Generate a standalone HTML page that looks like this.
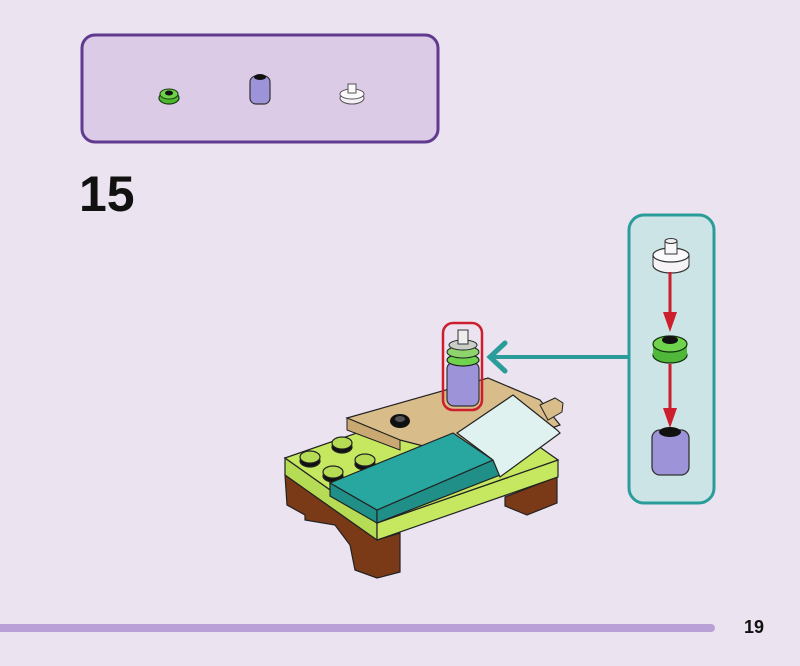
<!DOCTYPE html>
<html><head><style>
html,body{margin:0;padding:0;background:#ece3f1;}
svg{display:block;}
text{font-family:"Liberation Sans",sans-serif;}
</style></head><body>
<svg width="800" height="666" viewBox="0 0 800 666" xmlns="http://www.w3.org/2000/svg">
<rect width="800" height="666" fill="#ece3f1"/>
<!-- top parts box -->
<rect x="82" y="35" width="356" height="107" rx="13" fill="#dccbe6" stroke="#5f3a8f" stroke-width="3"/>
<!-- green small -->
<ellipse cx="169" cy="98" rx="10" ry="6" fill="#4cb830" stroke="#1a3a10" stroke-width="1.2"/>
<ellipse cx="169" cy="94" rx="9" ry="5" fill="#6fd04a" stroke="#1a3a10" stroke-width="1"/>
<ellipse cx="169" cy="93" rx="4" ry="2.5" fill="#111"/>
<!-- purple small -->
<rect x="250" y="76" width="20" height="28" rx="6" fill="#9d93d8" stroke="#333" stroke-width="1.2"/>
<ellipse cx="260" cy="77" rx="6" ry="3" fill="#111"/>
<!-- clear small -->
<ellipse cx="352" cy="98" rx="12" ry="6" fill="#f4f0f6" stroke="#555" stroke-width="1"/>
<ellipse cx="352" cy="94" rx="12" ry="5" fill="#fbf9fc" stroke="#555" stroke-width="1"/>
<rect x="348" y="84" width="8" height="9" fill="#fbf9fc" stroke="#555" stroke-width="1"/>
<text x="79" y="211" font-size="50" font-weight="bold" fill="#111">15</text>

<!-- callout -->
<line x1="628" y1="357" x2="492" y2="357" stroke="#2a9d9a" stroke-width="4"/>
<polyline points="505,343 490,357 505,371" fill="none" stroke="#2a9d9a" stroke-width="5" stroke-linecap="round"/>
<rect x="629" y="215" width="85" height="288" rx="15" fill="#cde4e6" stroke="#2a9d9a" stroke-width="3"/>
<!-- clear part -->
<ellipse cx="671" cy="265" rx="18" ry="8" fill="#f5f3f6" stroke="#333" stroke-width="1.2"/>
<rect x="653" y="255" width="36" height="10" fill="#f5f3f6"/>
<ellipse cx="671" cy="255" rx="18" ry="7" fill="#fbfafc" stroke="#333" stroke-width="1.2"/>
<line x1="653" y1="255" x2="653" y2="265" stroke="#333"/><line x1="689" y1="255" x2="689" y2="265" stroke="#333"/>
<rect x="665" y="241" width="12" height="13" fill="#f7f6f8" stroke="#333" stroke-width="1"/>
<ellipse cx="671" cy="241" rx="6" ry="2.5" fill="#eee" stroke="#333" stroke-width="1"/>
<!-- arrows red -->
<line x1="670" y1="272" x2="670" y2="318" stroke="#cc1e2c" stroke-width="3"/>
<polygon points="663,312 677,312 670,332" fill="#cc1e2c"/>
<!-- green part -->
<ellipse cx="670" cy="355" rx="17" ry="8" fill="#4fb83a" stroke="#143010" stroke-width="1.2"/>
<rect x="653" y="344" width="34" height="11" fill="#4fb83a"/>
<ellipse cx="670" cy="344" rx="17" ry="8" fill="#6fd34d" stroke="#143010" stroke-width="1.2"/>
<ellipse cx="670" cy="340" rx="8" ry="4" fill="#111"/>
<line x1="670" y1="364" x2="670" y2="414" stroke="#cc1e2c" stroke-width="3"/>
<polygon points="663,408 677,408 670,428" fill="#cc1e2c"/>
<!-- purple part -->
<rect x="652" y="430" width="37" height="45" rx="8" fill="#9d93d8" stroke="#333" stroke-width="1.3"/>
<ellipse cx="670" cy="432" rx="11" ry="5" fill="#111"/>

<!-- model -->
<!-- brown legs -->
<polygon points="285,475 377,540 400,533 400,572 377,578 355,570 350,545 335,525 305,520 305,515 287,505" fill="#7a3a18" stroke="#222" stroke-width="1.2"/>
<polygon points="505,497 557,477 557,503 527,515 505,506" fill="#7a3a18" stroke="#222" stroke-width="1.2"/>
<!-- green plate -->
<polygon points="285,458 377,523 377,540 285,475" fill="#b6dc55" stroke="#222" stroke-width="1.2"/>
<polygon points="377,523 558,460 558,477 377,540" fill="#c5e860" stroke="#222" stroke-width="1.2"/>
<polygon points="285,458 466,395 558,460 377,523" fill="#c5e860" stroke="#222" stroke-width="1.2"/>
<!-- tan plate -->
<polygon points="347,418 488,378 540,400 560,425 470,458 400,440" fill="#d8bc8a" stroke="#222" stroke-width="1.2"/>
<polygon points="347,418 400,440 400,450 347,430" fill="#c9a872" stroke="#222" stroke-width="1"/>
<ellipse cx="400" cy="421" rx="10" ry="7" fill="#111"/>
<ellipse cx="400" cy="419" rx="5" ry="3" fill="#555"/>
<!-- tan tab right -->
<polygon points="540,405 555,398 563,403 562,412 548,420" fill="#d8bc8a" stroke="#222" stroke-width="1"/>
<!-- studs -->
<g fill="#b6dc55" stroke="#222" stroke-width="1.2">
<ellipse cx="310" cy="461" rx="10" ry="6" fill="#111"/><ellipse cx="310" cy="457" rx="10" ry="6"/>
<ellipse cx="342" cy="447" rx="10" ry="6" fill="#111"/><ellipse cx="342" cy="443" rx="10" ry="6"/>
<ellipse cx="333" cy="476" rx="10" ry="6" fill="#111"/><ellipse cx="333" cy="472" rx="10" ry="6"/>
<ellipse cx="365" cy="464" rx="10" ry="6" fill="#111"/><ellipse cx="365" cy="460" rx="10" ry="6"/>
</g>
<!-- teal tile -->
<polygon points="330,483 377,510 377,523 330,496" fill="#1f8f88" stroke="#222" stroke-width="1.2"/>
<polygon points="377,510 493,460 500,475 377,523" fill="#1f8f88" stroke="#222" stroke-width="1.2"/>
<polygon points="330,483 453,433 493,460 377,510" fill="#27a79f" stroke="#222" stroke-width="1.2"/>
<!-- mint slope -->
<polygon points="457,433 513,395 557,430 560,433 500,477 493,460" fill="#dff2ef" stroke="#222" stroke-width="1.2"/>
<!-- stack -->
<rect x="443" y="323" width="39" height="87" rx="10" fill="none" stroke="#cc1e2c" stroke-width="2.5"/>
<rect x="447" y="362" width="32" height="44" rx="7" fill="#9d93d8" stroke="#333" stroke-width="1.2"/>
<ellipse cx="463" cy="360" rx="16" ry="6" fill="#6fd34d" stroke="#222" stroke-width="1.2"/>
<ellipse cx="463" cy="352" rx="16" ry="6" fill="#8ed46c" stroke="#222" stroke-width="1"/>
<ellipse cx="463" cy="345" rx="14" ry="5" fill="#c9cfc6" stroke="#222" stroke-width="1"/>
<rect x="458" y="330" width="10" height="14" fill="#eeeeee" stroke="#333" stroke-width="1"/>

<!-- bottom bar -->
<rect x="-10" y="624" width="725" height="8" rx="4" fill="#b9a0d6"/>
<text x="744" y="633" font-size="18" font-weight="bold" fill="#111">19</text>
</svg>
</body></html>
